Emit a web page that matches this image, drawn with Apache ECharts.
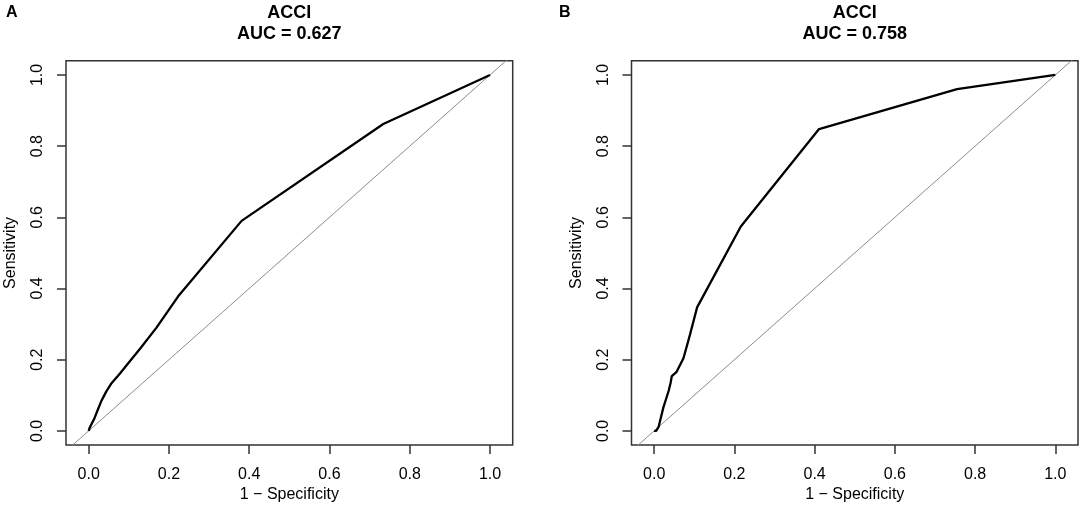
<!DOCTYPE html>
<html>
<head>
<meta charset="utf-8">
<title>ACCI ROC</title>
<script src="https://cdn.jsdelivr.net/npm/echarts@6/dist/echarts.min.js"></script>
<style>
  html, body { margin: 0; padding: 0; background: #fff; }
  #chart { width: 1084px; height: 508px; }
</style>
</head>
<body>
<div id="chart"></div>
<script>
'use strict';

// panel A: 1 - specificity / sensitivity
var fprA = [0, 0.0025, 0.015, 0.023, 0.032, 0.044, 0.057, 0.078, 0.098, 0.1275, 0.169, 0.223, 0.381, 0.734, 1.0];
var tprA = [0, 0.009, 0.037, 0.060, 0.085, 0.111, 0.134, 0.161, 0.189, 0.230, 0.290, 0.378, 0.590, 0.862, 1.0];

// panel B
var fprB = [0, 0.005, 0.011, 0.023, 0.036, 0.041, 0.044, 0.056, 0.073, 0.089, 0.107, 0.216, 0.411, 0.755, 1.0];
var tprB = [0, 0, 0.011, 0.066, 0.112, 0.135, 0.154, 0.166, 0.204, 0.269, 0.347, 0.574, 0.848, 0.960, 1.0];

var panelLetters = ['A', 'B'];
var panelTitles = ['ACCI\nAUC = 0.627', 'ACCI\nAUC = 0.758'];
var tickValues = [0, 0.2, 0.4, 0.6, 0.8, 1.0];
var refLine = [-0.1, 1.1]; // y = x

var FONT = '"Liberation Sans", Arial, Helvetica, sans-serif';

function pairs(xs, ys) {
  return xs.map(function (x, i) { return [x, ys[i]]; });
}

// 盒子位置 (左, 宽)
var boxes = [
  { left: 66, width: 446.7, letterX: 6 },
  { left: 631.5, width: 446.5, letterX: 559 }
];

var grids = [], xAxes = [], yAxes = [], series = [], titles = [];

boxes.forEach(function (b, i) {
  grids.push({
    left: b.left, top: 60.7, width: b.width, height: 391,
    show: true, borderColor: '#333', borderWidth: 1.5, backgroundColor: 'transparent'
  });

  xAxes.push({
    type: 'value', gridIndex: i, min: -0.0565, max: 1.0565,
    name: '1 \u2212 Specificity', nameLocation: 'middle', nameGap: 34,
    nameTextStyle: { fontFamily: FONT, fontSize: 16, color: '#000' },
    axisLine: { show: false, onZero: false },
    axisTick: { show: true, inside: false, length: 9, customValues: tickValues,
      lineStyle: { color: '#333', width: 1.5 } },
    axisLabel: { customValues: tickValues, margin: 21, fontFamily: FONT, fontSize: 16, color: '#000',
      formatter: function (v) { return v.toFixed(1); } },
    splitLine: { show: false }
  });

  yAxes.push({
    type: 'value', gridIndex: i, min: -0.04, max: 1.04,
    name: 'Sensitivity', nameLocation: 'middle', nameGap: 47,
    nameTextStyle: { fontFamily: FONT, fontSize: 16, color: '#000' },
    axisLine: { show: false, onZero: false },
    axisTick: { show: true, inside: false, length: 9, customValues: tickValues,
      lineStyle: { color: '#333', width: 1.5 } },
    axisLabel: { customValues: tickValues, rotate: 90, margin: 20, fontFamily: FONT, fontSize: 16, color: '#000',
      formatter: function (v) { return v.toFixed(1); } },
    splitLine: { show: false }
  });

  // 对角参考线
  series.push({
    type: 'line', xAxisIndex: i, yAxisIndex: i, clip: true, silent: true,
    data: pairs(refLine, refLine), showSymbol: false, symbol: 'none',
    lineStyle: { color: '#8c8c8c', width: 1 }, z: 2
  });

  titles.push({
    text: panelTitles[i], left: b.left + b.width / 2, top: 3, padding: 0, textAlign: 'center',
    textStyle: { fontFamily: FONT, fontSize: 18, fontWeight: 'bold', color: '#000', lineHeight: 20.5 }
  });
  titles.push({
    text: panelLetters[i], left: b.letterX, top: 5, padding: 0,
    textStyle: { fontFamily: FONT, fontSize: 16, fontWeight: 'bold', color: '#000' }
  });
});

series.push({
  type: 'line', xAxisIndex: 0, yAxisIndex: 0, data: pairs(fprA, tprA),
  showSymbol: false, symbol: 'none', lineStyle: { color: '#000', width: 2.3 }, z: 3
});
series.push({
  type: 'line', xAxisIndex: 1, yAxisIndex: 1, data: pairs(fprB, tprB),
  showSymbol: false, symbol: 'none', lineStyle: { color: '#000', width: 2.3 }, z: 3
});

var chart = echarts.init(document.getElementById('chart'), null, { renderer: 'canvas' });
chart.setOption({
  animation: false,
  backgroundColor: '#fff',
  title: titles,
  grid: grids,
  xAxis: xAxes,
  yAxis: yAxes,
  series: series
});
</script>
</body>
</html>
